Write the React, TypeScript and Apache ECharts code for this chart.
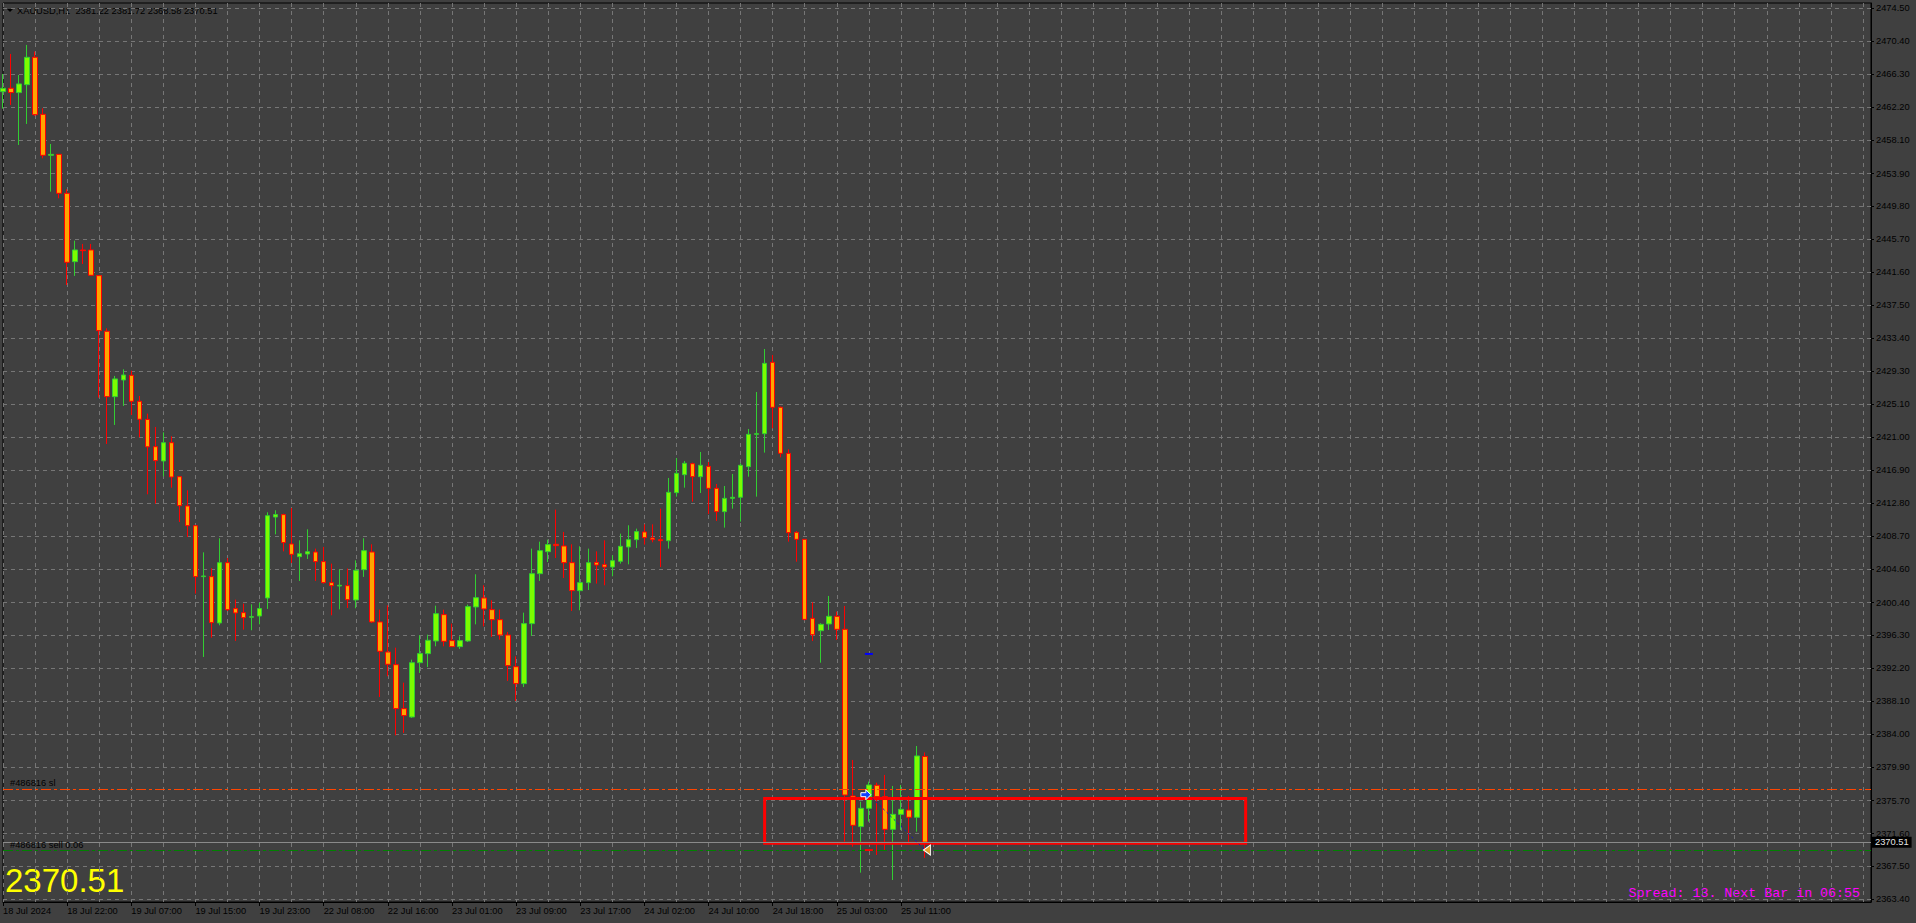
import React, { useEffect, useRef } from "react";
import * as echarts from "echarts";

// ---- data ----
const sessions: [string, number, number][] = [
  ["18 Jul", 14, 23],
  ["19 Jul", 1, 23],
  ["22 Jul", 1, 23],
  ["23 Jul", 1, 23],
  ["24 Jul", 1, 23],
  ["25 Jul", 1, 14],
];

const open = [
  2464.11, 2464.53, 2463.99, 2464.98, 2468.39, 2461.28, 2456.17, 2456.29, 2451.43, 2442.91,
  2444.37, 2444.37, 2441.17, 2434.23, 2426.08, 2428.16, 2428.74, 2425.5, 2423.24, 2419.84,
  2418.06, 2420.34, 2416.1, 2412.45, 2409.99, 2403.64, 2403.64, 2397.86, 2405.38, 2399.65,
  2399.15, 2398.57, 2398.73, 2400.98, 2411.07, 2411.37, 2407.71, 2406.13, 2406.46, 2406.71,
  2405.51, 2402.89, 2402.47, 2402.51, 2400.73, 2404.51, 2406.71, 2397.99, 2394.24, 2392.66,
  2387.18, 2386.14, 2392.91, 2394.04, 2395.62, 2398.9, 2395.66, 2394.91, 2395.62, 2399.86,
  2400.98, 2399.52, 2398.27, 2396.36, 2392.41, 2390.3, 2397.78, 2404.01, 2406.75, 2407.67,
  2407.46, 2405.38, 2401.89, 2402.89, 2405.42, 2405.13, 2404.84, 2405.55, 2407.34, 2408.25,
  2409.21, 2408.46, 2408.25, 2408.12, 2414.11, 2416.35, 2417.72, 2416.1, 2417.39, 2414.65,
  2411.74, 2413.4, 2413.53, 2417.35, 2421.38, 2421.46, 2430.36, 2424.75, 2419.01, 2409.16,
  2408.29, 2398.44, 2396.9, 2397.74, 2398.69, 2397.07, 2376.29, 2372.47, 2374.75, 2377.62,
  2376.2, 2372.13, 2374.0, 2374.54, 2373.63, 2381.22,
];
const high = [
  2466.31, 2468.81, 2466.19, 2469.93, 2469.1, 2462.03, 2457.58, 2456.33, 2451.93, 2445.53,
  2445.12, 2445.12, 2441.25, 2434.6, 2428.66, 2429.49, 2429.32, 2426.16, 2423.96, 2422.3,
  2421.63, 2421.13, 2416.15, 2414.4, 2410.04, 2406.67, 2404.68, 2408.42, 2405.96, 2400.77,
  2400.27, 2400.19, 2400.39, 2411.66, 2411.91, 2411.49, 2412.2, 2408.17, 2409.54, 2407.13,
  2407.34, 2405.26, 2404.55, 2404.64, 2405.67, 2408.42, 2407.67, 2399.52, 2400.06, 2394.78,
  2390.42, 2393.29, 2396.32, 2396.4, 2400.02, 2399.52, 2397.78, 2396.2, 2400.15, 2403.93,
  2402.56, 2400.69, 2399.52, 2396.74, 2393.7, 2399.15, 2407.13, 2408.0, 2408.25, 2411.99,
  2409.21, 2407.67, 2407.42, 2407.13, 2406.79, 2408.17, 2406.3, 2409.0, 2410.04, 2409.62,
  2410.16, 2410.16, 2412.11, 2415.94, 2418.43, 2418.06, 2417.85, 2419.18, 2417.93, 2415.19,
  2414.94, 2416.44, 2417.77, 2422.05, 2426.66, 2432.02, 2431.27, 2424.83, 2419.51, 2409.33,
  2408.33, 2400.44, 2397.82, 2401.23, 2399.27, 2399.98, 2380.78, 2375.58, 2378.08, 2377.95,
  2378.91, 2377.54, 2377.66, 2376.29, 2382.52, 2381.72,
];
const low = [
  2461.99, 2462.45, 2457.46, 2460.08, 2461.08, 2455.8, 2451.64, 2450.81, 2440.0, 2441.13,
  2442.62, 2441.17, 2425.96, 2420.18, 2422.55, 2424.92, 2423.8, 2421.01, 2413.9, 2412.74,
  2416.15, 2414.73, 2410.45, 2408.58, 2401.52, 2393.62, 2396.03, 2397.57, 2399.36, 2395.62,
  2397.03, 2396.95, 2397.69, 2399.61, 2408.91, 2406.79, 2405.34, 2403.1, 2405.84, 2403.1,
  2402.77, 2398.82, 2399.56, 2399.73, 2399.69, 2403.6, 2397.86, 2388.63, 2391.21, 2383.85,
  2384.15, 2386.02, 2391.63, 2392.37, 2394.95, 2394.95, 2394.87, 2394.62, 2395.49, 2397.69,
  2397.44, 2396.12, 2395.78, 2390.63, 2388.13, 2389.88, 2396.24, 2403.1, 2405.46, 2405.96,
  2403.47, 2399.36, 2399.44, 2401.97, 2402.77, 2402.56, 2403.68, 2405.26, 2405.17, 2407.21,
  2407.63, 2407.92, 2404.84, 2407.13, 2413.61, 2414.73, 2412.99, 2414.07, 2411.45, 2410.58,
  2409.75, 2412.11, 2410.5, 2416.1, 2413.61, 2419.1, 2422.13, 2418.51, 2408.0, 2405.5,
  2398.2, 2395.61, 2392.91, 2396.99, 2395.74, 2370.6, 2369.97, 2366.73, 2373.09, 2368.93,
  2369.56, 2365.81, 2372.05, 2370.39, 2371.84, 2368.58,
];
const close = [
  2464.53, 2463.99, 2465.07, 2468.39, 2461.24, 2456.17, 2456.29, 2451.43, 2442.83, 2444.37,
  2444.28, 2441.21, 2434.31, 2426.08, 2428.29, 2428.78, 2425.5, 2423.26, 2419.82, 2418.1,
  2420.34, 2416.06, 2412.49, 2409.99, 2403.64, 2403.72, 2397.9, 2405.38, 2399.52, 2399.11,
  2398.52, 2398.65, 2399.65, 2411.24, 2411.37, 2407.88, 2406.42, 2406.5, 2406.75, 2405.51,
  2402.89, 2402.51, 2402.56, 2400.77, 2404.43, 2406.88, 2397.99, 2394.33, 2392.71, 2387.18,
  2386.31, 2392.91, 2394.04, 2395.7, 2399.02, 2395.57, 2394.91, 2395.66, 2399.9, 2401.02,
  2399.61, 2398.27, 2396.36, 2392.54, 2390.3, 2397.78, 2404.01, 2406.88, 2407.63, 2407.5,
  2405.38, 2401.89, 2402.89, 2405.38, 2405.09, 2404.84, 2405.63, 2407.42, 2408.25, 2409.25,
  2408.5, 2408.25, 2408.12, 2414.15, 2416.52, 2417.77, 2416.1, 2417.52, 2414.65, 2411.74,
  2413.4, 2413.53, 2417.52, 2421.38, 2421.46, 2430.23, 2424.75, 2419.01, 2409.12, 2408.29,
  2398.31, 2396.4, 2397.69, 2398.69, 2397.07, 2376.41, 2372.63, 2374.75, 2377.66, 2376.2,
  2372.13, 2374.0, 2374.63, 2373.63, 2381.28, 2370.51,
];

const xTickLabels = [
  "18 Jul 2024", "18 Jul 22:00", "19 Jul 07:00", "19 Jul 15:00", "19 Jul 23:00",
  "22 Jul 08:00", "22 Jul 16:00", "23 Jul 01:00", "23 Jul 09:00", "23 Jul 17:00",
  "24 Jul 02:00", "24 Jul 10:00", "24 Jul 18:00", "25 Jul 03:00", "25 Jul 11:00",
];
const yTicks = [
  2474.5, 2470.4, 2466.3, 2462.2, 2458.1, 2453.9, 2449.8, 2445.7, 2441.6, 2437.5,
  2433.4, 2429.3, 2425.1, 2421.0, 2416.9, 2412.8, 2408.7, 2404.6, 2400.4, 2396.3,
  2392.2, 2388.1, 2384.0, 2379.9, 2375.7, 2371.6, 2367.5, 2363.4,
];

const futureSlots = 118;
const headerText = "XAUUSD,H1  2381.22 2381.72 2368.58 2370.51";
const bidPrice = 2370.51;
const slPrice = 2377.19;
const entryPrice = 2369.55;
const orderId = "#486816";
const zoneBars = [95, 155];
const zonePrices = [2375.96, 2370.39];
const tradeOpen: [number, number] = [108, 2376.45];
const tradeClose: [number, number] = [115, 2369.55];
const markerBar = 108;
const blueDashPrice = 2394.0;
const spreadText = "Spread: 13. Next Bar in 06:55";

// build categories
const categories: string[] = [];
for (const [day, from, to] of sessions) {
  for (let h = from; h <= to; h++) categories.push(`${day} ${String(h).padStart(2, "0")}:00`);
}
for (let k = 1; k <= futureSlots; k++) categories.push(`+${k}`);

const GRID = "#767676";
const FONT = "Liberation Sans, Arial, sans-serif";

export default function App() {
  const ref = useRef<HTMLDivElement>(null);
  useEffect(() => {
    if (!ref.current) return;
    const chart = echarts.init(ref.current, undefined, { renderer: "svg" });
    const labelIdx = (i: number) => i % 8 === 0 && i / 8 < xTickLabels.length;
    const data = open.map((o, i) => [o, close[i], low[i], high[i]]);
    const dashDot = [10, 3, 3, 3];
    chart.setOption({
      animation: false,
      backgroundColor: "#404040",
      textStyle: { fontFamily: FONT },
      grid: { left: 3, right: 45, top: 3, bottom: 21, show: true, borderColor: "#000", borderWidth: 1 },
      xAxis: {
        type: "category",
        data: categories,
        boundaryGap: false,
        axisLine: { show: true, lineStyle: { color: "#000" } },
        axisTick: { show: true, interval: labelIdx, length: 4, lineStyle: { color: "#000" } },
        axisLabel: {
          interval: labelIdx,
          formatter: (_v: string, i: number) => xTickLabels[i / 8] ?? "",
          align: "left",
          color: "#000",
          fontSize: 9.3,
          fontFamily: FONT,
          margin: 4,
        },
        splitLine: { show: true, interval: 3, lineStyle: { color: GRID, type: [4, 4], width: 1 } },
      },
      yAxis: {
        type: "value",
        position: "right",
        min: 2363.07,
        max: 2475.16,
        scale: true,
        axisLine: { show: true, lineStyle: { color: "#000" } },
        axisTick: { show: true, length: 3, customValues: yTicks, lineStyle: { color: "#000" } },
        axisLabel: {
          customValues: yTicks,
          formatter: (v: number) => v.toFixed(2),
          color: "#000",
          fontSize: 9.3,
          fontFamily: FONT,
          margin: 5,
        },
        splitLine: { show: true, lineStyle: { color: GRID, type: [4, 4], width: 1 } },
      },
      series: [
        {
          type: "candlestick",
          data,
          barWidth: 5,
          itemStyle: {
            color: "#7CFC00",
            color0: "#FFA500",
            borderColor: "#32CD32",
            borderColor0: "#FF0000",
            borderWidth: 1,
          },
          markLine: {
            silent: true,
            symbol: ["none", "none"],
            animation: false,
            data: [
              {
                yAxis: slPrice,
                lineStyle: { color: "#FF4500", type: dashDot, width: 1 },
                label: {
                  show: true,
                  position: "insideStartTop",
                  formatter: `${orderId} sl`,
                  color: "#000",
                  fontSize: 9.3,
                  fontFamily: FONT,
                  distance: [7, 1],
                },
              },
              {
                yAxis: bidPrice,
                lineStyle: { color: "#8a8a8a", type: "solid", width: 1 },
                label: {
                  show: true,
                  position: "end",
                  formatter: bidPrice.toFixed(2),
                  backgroundColor: "#000",
                  color: "#e6e6e6",
                  fontSize: 9.3,
                  fontFamily: FONT,
                  padding: [1, 3, 1, 3],
                  distance: 1,
                },
              },
              {
                yAxis: entryPrice,
                lineStyle: { color: "#008000", type: dashDot, width: 1 },
                label: {
                  show: true,
                  position: "insideStartTop",
                  formatter: `${orderId} sell 0.06`,
                  color: "#000",
                  fontSize: 9.3,
                  fontFamily: FONT,
                  distance: [7, 1],
                },
              },
              [
                { coord: tradeOpen, lineStyle: { color: "#1010d0", type: [2, 3], width: 1 }, label: { show: false } },
                { coord: tradeClose },
              ],
            ],
          },
          markArea: {
            silent: true,
            z: 5,
            itemStyle: { color: "rgba(0,0,0,0)", borderColor: "#FF0000", borderWidth: 3 },
            data: [[
              { xAxis: zoneBars[0], yAxis: zonePrices[0] },
              { xAxis: zoneBars[1], yAxis: zonePrices[1] },
            ]],
          },
          markPoint: {
            silent: true,
            label: { show: false },
            data: [
              {
                coord: tradeOpen,
                symbol: "path://M0,3L5,3L5,0L10,5L5,10L5,7L0,7Z",
                symbolSize: [10, 10],
                symbolOffset: [-3, 0],
                itemStyle: { color: "#1040ff", borderColor: "#fff", borderWidth: 1 },
              },
              {
                coord: tradeClose,
                symbol: "path://M10,0L0,5L10,10Z",
                symbolSize: [7, 10],
                symbolOffset: [2, 0],
                itemStyle: { color: "#E0A030", borderColor: "#fff", borderWidth: 1 },
              },
              {
                coord: [markerBar, blueDashPrice],
                symbol: "rect",
                symbolSize: [8, 2],
                itemStyle: { color: "#0000ff" },
              },
              {
                coord: [markerBar, entryPrice],
                symbol: "rect",
                symbolSize: [8, 2],
                itemStyle: { color: "#ff0000" },
              },
            ],
          },
        },
      ],
      graphic: [
        { type: "polygon", shape: { points: [[7, 9], [13, 9], [10, 12]] }, style: { fill: "#000" } },
        {
          type: "text",
          x: 17,
          y: 11,
          style: { text: headerText, fill: "#000", font: `9.3px ${FONT}`, textVerticalAlign: "middle" },
        },
        {
          type: "text",
          x: 5,
          y: 880,
          style: { text: bidPrice.toFixed(2), fill: "#FFFF00", font: `33px ${FONT}`, textVerticalAlign: "middle" },
        },
        {
          type: "text",
          x: 1860,
          y: 893,
          style: {
            text: spreadText,
            fill: "#FF00FF",
            font: `13.3px "Liberation Mono", "Courier New", monospace`,
            textAlign: "right",
            textVerticalAlign: "middle",
          },
        },
      ],
    });
    return () => chart.dispose();
  }, []);
  return (
    <div
      ref={ref}
      style={{ position: "fixed", left: 0, top: 0, width: 1916, height: 923, background: "#404040" }}
    />
  );
}
